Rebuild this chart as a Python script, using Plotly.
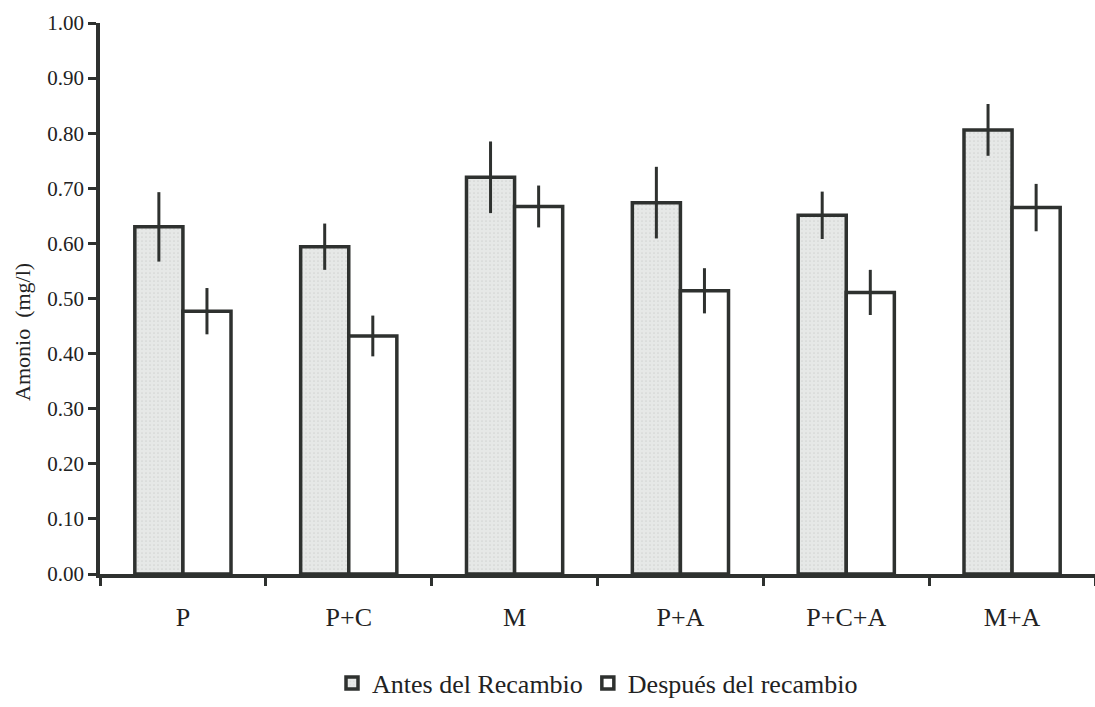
import plotly.graph_objects as go

categories = ["P", "P+C", "M", "P+A", "P+C+A", "M+A"]
antes = [0.63, 0.594, 0.72, 0.674, 0.651, 0.806]
antes_err = [0.063, 0.042, 0.065, 0.065, 0.043, 0.047]
despues = [0.477, 0.432, 0.667, 0.514, 0.511, 0.665]
despues_err = [0.042, 0.037, 0.038, 0.041, 0.041, 0.043]
y_ticks = [i / 10 for i in range(11)]
y_tick_labels = [f"{v:.2f}" for v in y_ticks]

DARK = "#2e312f"
TEXT = "#222222"
FONT = "Liberation Serif, Times New Roman, serif"

fig = go.Figure()
fig.add_trace(go.Bar(
    x=categories, y=antes, name="Antes del Recambio",
    marker=dict(color="#e3e5e4", line=dict(color=DARK, width=3.5),
                pattern=dict(shape=".", bgcolor="#e6e8e7", fgcolor="#bfc2c0", size=4, solidity=0.15)),
    error_y=dict(type="data", array=antes_err, visible=True, color=DARK, thickness=3, width=0),
))
fig.add_trace(go.Bar(
    x=categories, y=despues, name="Después del recambio",
    marker=dict(color="#ffffff", line=dict(color=DARK, width=3.5)),
    error_y=dict(type="data", array=despues_err, visible=True, color=DARK, thickness=3, width=0),
))

fig.update_layout(
    width=1095, height=707,
    margin=dict(l=100, r=0, t=23, b=129),
    paper_bgcolor="white", plot_bgcolor="white",
    barmode="group", bargap=0.42, bargroupgap=0,
    font=dict(family=FONT, color=TEXT, size=16),
    showlegend=True,
    legend=dict(orientation="h", x=0.5, xanchor="center", y=-0.198, yanchor="middle",
                font=dict(family=FONT, size=26, color=TEXT),
                itemwidth=30, tracegroupgap=0, bgcolor="rgba(0,0,0,0)"),
    annotations=[dict(
        text="Amonio  (mg/l)", textangle=-90, xref="paper", yref="paper",
        x=-0.078, y=0.44, xanchor="center", yanchor="middle", showarrow=False,
        font=dict(family=FONT, size=22, color=TEXT),
    )],
)
fig.update_xaxes(
    showline=True, linecolor=DARK, linewidth=3.5,
    ticks="outside", tickson="boundaries", ticklen=8, tickwidth=3, tickcolor=DARK,
    tickfont=dict(family=FONT, size=26, color=TEXT),
    ticklabelstandoff=17, showgrid=False, zeroline=False,
)
fig.update_yaxes(
    range=[0, 1], tickvals=y_ticks, ticktext=y_tick_labels,
    showline=True, linecolor=DARK, linewidth=3.5,
    ticks="outside", ticklen=8, tickwidth=3, tickcolor=DARK,
    tickfont=dict(family=FONT, size=21, color=TEXT),
    showgrid=False, zeroline=False,
)

fig.write_html("out.html")
